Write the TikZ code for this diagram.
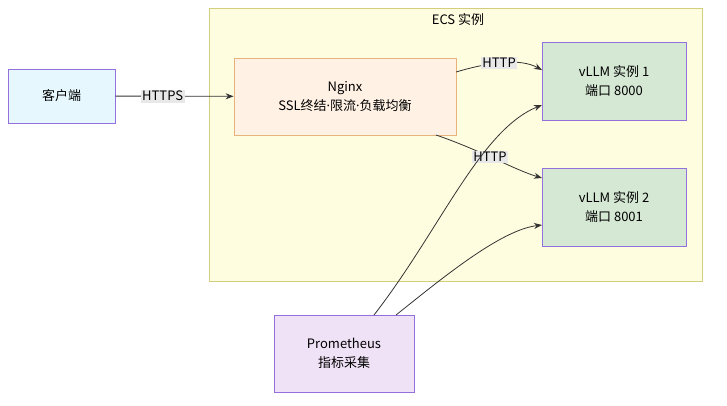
\documentclass[tikz,border=0pt]{standalone}
\usepackage{fontspec}
\setmainfont{Noto Sans CJK SC}
\newfontfamily\latinf{Noto Sans}
\usetikzlibrary{arrows.meta}
\definecolor{bd}{HTML}{9370DB}
\definecolor{vg}{HTML}{D5E8D4}
\definecolor{pp}{HTML}{F0E2F6}
\newcommand{\mdot}{{\latinf ·}}
\tikzset{x=1pt,y=-1pt,
 box/.style={draw=bd,line width=0.8pt,align=center,font=\fontsize{13}{19}\selectfont,inner sep=0pt},
 lab/.style={fill=gray!18,inner sep=1.5pt,font=\fontsize{13}{15}\selectfont},
 arr/.style={draw=black!80,line width=0.8pt,-{Stealth[length=8pt,width=6pt]}}}
\begin{document}
\begin{tikzpicture}
\useasboundingbox (0,0) rectangle (727,405);
\draw[fill=yellow!12,draw=yellow!50!gray!80] (209,8) rectangle (702,281);
\node[font=\fontsize{13}{15}\selectfont] (ecs) at (458,20) {ECS 实例};
\node[box,fill=cyan!10,minimum width=107pt,minimum height=54pt] (c) at (61.5,96) {客户端};
\node[box,fill=orange!10,draw=orange!40!brown!60,minimum width=222pt,minimum height=77pt] (n) at (345,96.5) {Nginx\\SSL终结\mdot 限流\mdot 负载均衡};
\node[box,fill=vg,minimum width=144pt,minimum height=78pt] (v1) at (614,81) {vLLM 实例 1\\端口 8000};
\node[box,fill=vg,minimum width=144pt,minimum height=78pt] (v2) at (614,207) {vLLM 实例 2\\端口 8001};
\node[box,fill=pp,minimum width=140pt,minimum height=77pt] (p) at (344,353.5) {Prometheus\\指标采集};
\draw[arr] (c) -- node[lab,pos=0.4]{HTTPS} (n);
\draw[arr] (456,72) .. controls (490,62) and (520,58) .. (542,70) node[lab,pos=0.45]{HTTP};
\draw[arr] (436,135) .. controls (480,150) and (515,170) .. (542,178);
\node[lab] (h2) at (490,157) {HTTP};
\draw[arr] (374,315) .. controls (440,230) and (480,130) .. (542,105);
\draw[arr] (396,315) .. controls (440,280) and (500,230) .. (542,225);
\end{tikzpicture}
\end{document}
